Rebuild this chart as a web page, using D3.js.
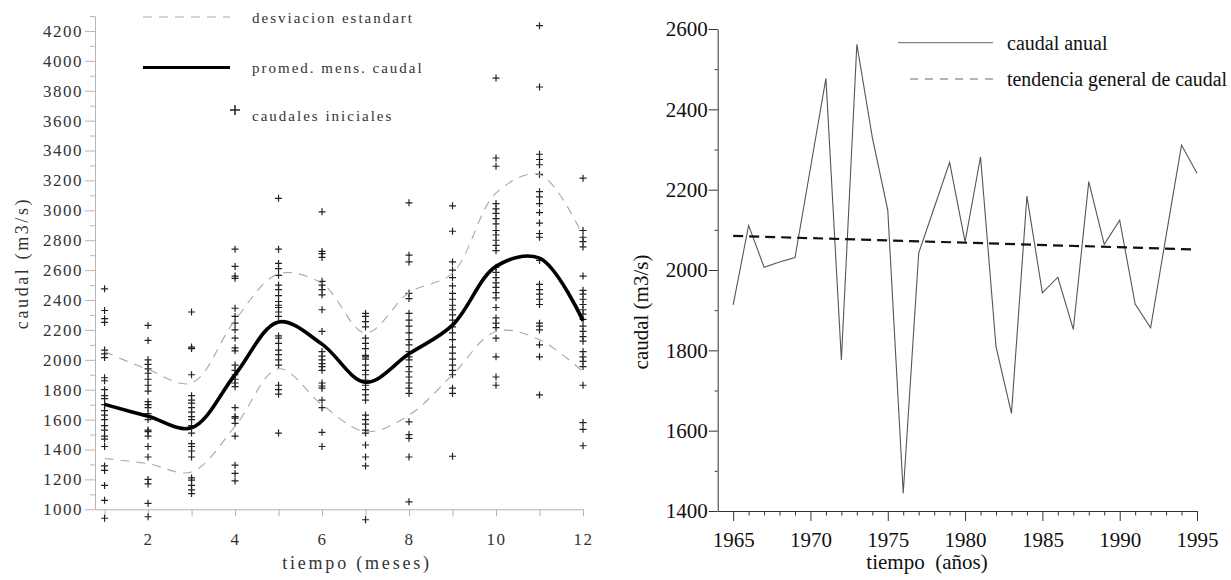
<!DOCTYPE html>
<html>
<head>
<meta charset="utf-8">
<script src="https://cdn.jsdelivr.net/npm/d3@7"></script>
<style>
  html, body { margin: 0; padding: 0; background: #fff; }
  svg { display: block; font-family: 'Liberation Serif', 'Times New Roman', serif; }
  svg text { font-family: 'Liberation Serif', 'Times New Roman', serif; }
</style>
</head>
<body>
<svg id="chart" width="1231" height="580"></svg>
<script>
// ---- left panel: monthly discharge ----
const meses = [1, 2, 3, 4, 5, 6, 7, 8, 9, 10, 11, 12];
const mesLabels = [2, 4, 6, 8, 10, 12];
const promedio = [1702, 1622, 1545, 1900, 2253, 2105, 1850, 2040, 2232, 2625, 2680, 2262];
const desvSup = [2055, 1935, 1845, 2265, 2575, 2510, 2180, 2450, 2580, 3115, 3240, 2830];
const desvInf = [1340, 1305, 1250, 1555, 1940, 1700, 1520, 1630, 1900, 2190, 2135, 1920];

const mes1 = [2475, 2330, 2275, 2250, 2065, 2040, 2015, 1880, 1860, 1800, 1760, 1740, 1700, 1660, 1630, 1600, 1560, 1530, 1490, 1470, 1420, 1290, 1260, 1160, 1060, 940];
const mes2 = [2230, 2130, 2000, 1970, 1940, 1910, 1870, 1830, 1790, 1720, 1700, 1680, 1640, 1600, 1530, 1520, 1490, 1420, 1350, 1200, 1170, 1040, 950];
const mes3 = [2320, 2085, 2075, 1900, 1760, 1730, 1710, 1680, 1650, 1620, 1600, 1560, 1510, 1440, 1420, 1390, 1350, 1210, 1195, 1160, 1130, 1105];
const mes4 = [2740, 2625, 2560, 2545, 2345, 2290, 2245, 2200, 2145, 2080, 2060, 1965, 1930, 1900, 1870, 1845, 1820, 1680, 1620, 1610, 1575, 1490, 1295, 1240, 1190];
const mes5 = [3080, 2740, 2645, 2610, 2565, 2500, 2470, 2430, 2390, 2365, 2350, 2320, 2290, 2160, 2145, 2110, 2065, 2035, 2000, 1965, 1830, 1800, 1770, 1510];
const mes6 = [2990, 2725, 2710, 2685, 2525, 2500, 2470, 2435, 2335, 2190, 2055, 2025, 2000, 1975, 1955, 1930, 1845, 1825, 1810, 1730, 1680, 1515, 1420];
const mes7 = [2310, 2290, 2255, 2220, 2145, 2110, 2075, 2030, 2020, 2005, 1965, 1930, 1900, 1865, 1830, 1800, 1765, 1730, 1630, 1600, 1570, 1530, 1510, 1430, 1350, 1290, 930];
const mes8 = [3050, 2700, 2655, 2445, 2410, 2310, 2265, 2225, 2180, 2135, 2100, 2055, 2020, 2000, 1955, 1920, 1885, 1845, 1810, 1775, 1585, 1500, 1475, 1350, 1050];
const mes9 = [3030, 2860, 2655, 2600, 2550, 2495, 2445, 2405, 2365, 2335, 2300, 2265, 2220, 2180, 2135, 2085, 2045, 2005, 1965, 1930, 1900, 1810, 1775, 1355];
const mes10 = [3885, 3350, 3295, 3045, 3010, 2980, 2945, 2910, 2865, 2835, 2800, 2765, 2730, 2620, 2585, 2550, 2515, 2485, 2450, 2415, 2350, 2280, 2245, 2215, 2145, 2020, 1885, 1830];
const mes11 = [4235, 3825, 3375, 3340, 3305, 3240, 3125, 3090, 3045, 2985, 2915, 2845, 2820, 2665, 2505, 2470, 2440, 2405, 2370, 2245, 2225, 2200, 2100, 2020, 1765];
const mes12 = [3215, 2865, 2820, 2790, 2755, 2560, 2465, 2440, 2405, 2370, 2335, 2305, 2270, 2225, 2190, 2155, 2125, 2055, 2020, 1990, 1955, 1830, 1580, 1535, 1425];
const caudalesIniciales = [mes1, mes2, mes3, mes4, mes5, mes6, mes7, mes8, mes9, mes10, mes11, mes12];

const yMajorL = [1000, 1200, 1400, 1600, 1800, 2000, 2200, 2400, 2600, 2800, 3000, 3200, 3400, 3600, 3800, 4000, 4200];
const yMinorL = [1100, 1300, 1500, 1700, 1900, 2100, 2300, 2500, 2700, 2900, 3100, 3300, 3500, 3700, 3900, 4100, 4300];

// ---- right panel: annual discharge ----
const anios = [1965, 1966, 1967, 1968, 1969, 1970, 1971, 1972, 1973, 1974, 1975, 1976, 1977, 1978, 1979, 1980,
  1981, 1982, 1983, 1984, 1985, 1986, 1987, 1988, 1989, 1990, 1991, 1992, 1993, 1994, 1995];
const caudalAnual = [1913, 2111, 2007, 2020, 2031, 2254, 2477, 1776, 2562, 2330, 2149, 1444, 2042, 2155, 2268, 2070,
  2282, 1809, 1643, 2184, 1943, 1982, 1852, 2220, 2064, 2124, 1915, 1856, 2085, 2311, 2241];
const tendenciaAnios = [1965, 1995];
const tendencia = [2085, 2051];
const yMajorR = [1400, 1600, 1800, 2000, 2200, 2400, 2600];
const yMinorR = [1500, 1700, 1900, 2100, 2300, 2500];
const xMajorR = [1965, 1970, 1975, 1980, 1985, 1990, 1995];
const xMinorR = [1966, 1967, 1968, 1969, 1971, 1972, 1973, 1974, 1976, 1977, 1978, 1979, 1981, 1982, 1983, 1984,
  1986, 1987, 1988, 1989, 1991, 1992, 1993, 1994];

const serif = "'Liberation Serif', 'Times New Roman', serif";
const svg = d3.select('#chart');

/* ============ left chart ============ */
const xL = d3.scaleLinear().domain([0.78, 12]).range([95, 583]);
const yL = d3.scaleLinear().domain([1000, 4300]).range([509.3, 16]);
const gL = svg.append('g');

function styleAxis(g, stroke, textFill, size) {
  g.attr('font-family', serif).attr('font-size', size);
  g.select('.domain').attr('stroke', stroke);
  g.selectAll('.tick line').attr('stroke', stroke);
  g.selectAll('.tick text').attr('fill', textFill).attr('font-family', serif).attr('font-size', size);
}

const yAxL = gL.append('g').attr('transform', 'translate(95,0)')
  .call(d3.axisLeft(yL).tickValues(yMajorL).tickSize(10).tickSizeOuter(0).tickPadding(2).tickFormat(d3.format('d')));
styleAxis(yAxL, '#b5b5b5', '#333', 17);
yAxL.selectAll('.tick text').attr('letter-spacing', '1.5px');
gL.append('g').attr('transform', 'translate(95,0)')
  .call(d3.axisLeft(yL).tickValues(yMinorL).tickSize(5).tickSizeOuter(0).tickFormat(''))
  .call(g => { g.select('.domain').remove(); g.selectAll('line').attr('stroke', '#b5b5b5'); });

const xAxL = gL.append('g').attr('transform', 'translate(0,509.3)')
  .call(d3.axisBottom(xL).tickValues(meses).tickSize(7).tickSizeOuter(0).tickPadding(17)
    .tickFormat(d => mesLabels.includes(d) ? d : ''));
styleAxis(xAxL, '#b5b5b5', '#333', 17);
xAxL.selectAll('.tick text').attr('letter-spacing', '1.5px');

// scatter of initial discharges
const pts = [];
caudalesIniciales.forEach((vals, i) => vals.forEach(v => pts.push({ m: meses[i], v })));
gL.append('g').selectAll('path').data(pts).join('path')
  .attr('transform', d => `translate(${xL(d.m)},${yL(d.v)})`)
  .attr('d', 'M-3.5,0H3.5M0,-3.5V3.5')
  .attr('stroke', '#222').attr('stroke-width', 1.2).attr('fill', 'none');

const curve = d3.line().x((d, i) => xL(meses[i])).y(d => yL(d)).curve(d3.curveCatmullRom.alpha(0.5));
[desvSup, desvInf].forEach(arr => {
  gL.append('path').datum(arr).attr('d', curve)
    .attr('fill', 'none').attr('stroke', '#a8a8a8').attr('stroke-width', 1.1).attr('stroke-dasharray', '9,7');
});
gL.append('path').datum(promedio).attr('d', curve)
  .attr('fill', 'none').attr('stroke', '#000').attr('stroke-width', 3.6);

// legend
gL.append('line').attr('x1', 143).attr('x2', 230).attr('y1', 17).attr('y2', 17)
  .attr('stroke', '#a8a8a8').attr('stroke-width', 1.1).attr('stroke-dasharray', '9,7');
gL.append('line').attr('x1', 143).attr('x2', 230).attr('y1', 67.5).attr('y2', 67.5)
  .attr('stroke', '#000').attr('stroke-width', 3);
gL.append('path').attr('transform', 'translate(235,110)').attr('d', 'M-5,0H5M0,-5V5')
  .attr('stroke', '#222').attr('stroke-width', 1.5);
const legL = [['desviacion estandart', 22.5], ['promed. mens. caudal', 72.5], ['caudales iniciales', 120.5]];
gL.selectAll('text.leg').data(legL).join('text').attr('class', 'leg')
  .attr('x', 252).attr('y', d => d[1]).attr('font-size', 15).attr('letter-spacing', '2px')
  .attr('fill', '#333').text(d => d[0]);

gL.append('text').attr('x', 357).attr('y', 569).attr('text-anchor', 'middle')
  .attr('font-size', 18).attr('letter-spacing', '2.8px').attr('fill', '#333').text('tiempo (meses)');
gL.append('text').attr('transform', 'translate(28,263) rotate(-90)').attr('text-anchor', 'middle')
  .attr('font-size', 18).attr('letter-spacing', '2.6px').attr('fill', '#333').text('caudal (m3/s)');

/* ============ right chart ============ */
const xR = d3.scaleLinear().domain([1964, 1995]).range([717.7, 1197]);
const yR = d3.scaleLinear().domain([1400, 2600]).range([511, 29]);
const gR = svg.append('g');

const yAxR = gR.append('g').attr('transform', 'translate(717.7,0)')
  .call(d3.axisLeft(yR).tickValues(yMajorR).tickSize(9).tickSizeOuter(0).tickPadding(1).tickFormat(d3.format('d')));
styleAxis(yAxR, '#333', '#111', 21);
gR.append('g').attr('transform', 'translate(717.7,0)')
  .call(d3.axisLeft(yR).tickValues(yMinorR).tickSize(3).tickSizeOuter(0).tickFormat(''))
  .call(g => { g.select('.domain').remove(); g.selectAll('line').attr('stroke', '#333'); });

const xAxR = gR.append('g').attr('transform', 'translate(0,511)')
  .call(d3.axisBottom(xR).tickValues(xMajorR).tickSize(10).tickSizeOuter(0).tickPadding(11).tickFormat(d3.format('d')));
styleAxis(xAxR, '#333', '#111', 21);
gR.append('g').attr('transform', 'translate(0,511)')
  .call(d3.axisBottom(xR).tickValues(xMinorR).tickSize(4.5).tickSizeOuter(0).tickFormat(''))
  .call(g => { g.select('.domain').remove(); g.selectAll('line').attr('stroke', '#333'); });

const lineR = d3.line().x((d, i) => xR(anios[i])).y(d => yR(d));
gR.append('path').datum(caudalAnual).attr('d', lineR)
  .attr('fill', 'none').attr('stroke', '#555').attr('stroke-width', 1.1);
const trendR = d3.line().x((d, i) => xR(tendenciaAnios[i])).y(d => yR(d));
gR.append('path').datum(tendencia).attr('d', trendR)
  .attr('fill', 'none').attr('stroke', '#111').attr('stroke-width', 2.2).attr('stroke-dasharray', '10,6');

// legend
gR.append('line').attr('x1', 898).attr('x2', 993).attr('y1', 42.7).attr('y2', 42.7)
  .attr('stroke', '#666').attr('stroke-width', 1);
gR.append('line').attr('x1', 910).attr('x2', 993).attr('y1', 79).attr('y2', 79)
  .attr('stroke', '#666').attr('stroke-width', 1).attr('stroke-dasharray', '8,7');
gR.append('text').attr('x', 1007).attr('y', 50).attr('font-size', 20).attr('fill', '#111').text('caudal anual');
gR.append('text').attr('x', 1007).attr('y', 86).attr('font-size', 20).attr('fill', '#111')
  .attr('textLength', 220).attr('lengthAdjust', 'spacingAndGlyphs').text('tendencia general de caudal');

gR.append('text').attr('x', 927).attr('y', 569).attr('text-anchor', 'middle')
  .attr('font-size', 21).attr('fill', '#111').style('white-space', 'pre').text('tiempo  (años)');
gR.append('text').attr('transform', 'translate(648,312) rotate(-90)').attr('text-anchor', 'middle')
  .attr('font-size', 21).attr('fill', '#111').text('caudal (m3/s)');
</script>
</body>
</html>
